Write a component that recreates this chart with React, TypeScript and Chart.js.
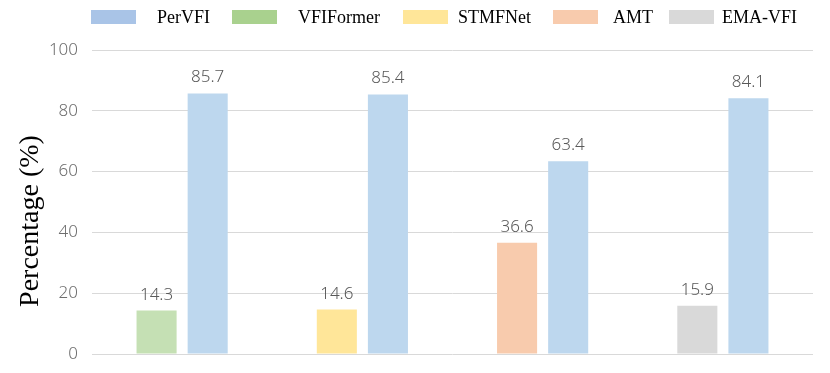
import React, { useEffect, useRef } from "react";
import { Chart, registerables } from "chart.js";

Chart.register(...registerables);

const categories = ["VFIFormer", "STMFNet", "AMT", "EMA-VFI"];
const competitorValues = [14.3, 14.6, 36.6, 15.9];
const perVFIValues = [85.7, 85.4, 63.4, 84.1];
const competitorColors = ["#c5e0b4", "#ffe699", "#f8cbad", "#d9d9d9"];
const perVFIColor = "#bdd7ee";

const legendLabels = ["PerVFI", "VFIFormer", "STMFNet", "AMT", "EMA-VFI"];
const legendColors = ["#a9c4e7", "#a9d18e", "#ffe699", "#f8cbad", "#d9d9d9"];
const yTicks = [0, 20, 40, 60, 80, 100];
const yTitle = "Percentage (%)";

// legend layout (decoration only)
const LEGEND_BOX_X = [91, 232, 403, 553, 669];
const LEGEND_TEXT_X = [157, 298, 458, 613, 722];

const valueLabelPlugin = {
  id: "valueLabels",
  afterDatasetsDraw(chart: any) {
    const ctx = chart.ctx;
    ctx.save();
    ctx.font = '300 17px "Noto Sans"';
    ctx.fillStyle = "#595959";
    ctx.textAlign = "center";
    ctx.textBaseline = "alphabetic";
    chart.data.datasets.forEach((ds: any, di: number) => {
      const meta = chart.getDatasetMeta(di);
      meta.data.forEach((bar: any, i: number) => {
        ctx.fillText(String(ds.data[i]), bar.x, bar.y - 11);
      });
    });
    ctx.restore();
  },
};

const legendPlugin = {
  id: "customLegend",
  afterDraw(chart: any) {
    const ctx = chart.ctx;
    ctx.save();
    ctx.font = '18px "Liberation Serif"';
    ctx.textBaseline = "middle";
    ctx.textAlign = "left";
    legendLabels.forEach((label, i) => {
      ctx.fillStyle = legendColors[i];
      ctx.fillRect(LEGEND_BOX_X[i], 10, 45, 14);
      ctx.fillStyle = "#000000";
      ctx.fillText(label, LEGEND_TEXT_X[i], 18);
    });
    ctx.restore();
  },
};

const yTitlePlugin = {
  id: "yTitle",
  afterDraw(chart: any) {
    const ctx = chart.ctx;
    ctx.save();
    ctx.translate(31, 221);
    ctx.rotate(-Math.PI / 2);
    ctx.font = '28px "Liberation Serif"';
    ctx.fillStyle = "#000000";
    ctx.textAlign = "center";
    ctx.textBaseline = "middle";
    ctx.fillText(yTitle, 0, 0);
    ctx.restore();
  },
};

export default function App() {
  const canvasRef = useRef<HTMLCanvasElement | null>(null);

  useEffect(() => {
    document.body.style.margin = "0";
    const canvas = canvasRef.current;
    if (!canvas) return;
    const chart = new Chart(canvas, {
      type: "bar",
      data: {
        labels: categories,
        datasets: [
          {
            label: "Competitor",
            data: competitorValues,
            backgroundColor: competitorColors,
            categoryPercentage: 0.567,
            barPercentage: 0.784,
          },
          {
            label: "PerVFI",
            data: perVFIValues,
            backgroundColor: perVFIColor,
            categoryPercentage: 0.567,
            barPercentage: 0.784,
          },
        ],
      },
      options: {
        responsive: false,
        animation: false,
        devicePixelRatio: 1,
        layout: { padding: { top: 50, bottom: 19, right: 17, left: 0 } },
        plugins: {
          legend: { display: false },
          tooltip: { enabled: false },
          title: { display: false },
        },
        scales: {
          x: { display: false },
          y: {
            min: 0,
            max: 100,
            afterFit(scale: any) {
              scale.width = 92;
              scale.paddingTop = 0;
              scale.paddingBottom = 0;
            },
            afterBuildTicks(scale: any) {
              scale.ticks = yTicks.map((v) => ({ value: v }));
            },
            grid: { color: "#d9d9d9", lineWidth: 1, drawTicks: false },
            border: { display: false },
            ticks: {
              padding: 14,
              color: "#6e6e6e",
              font: { family: "Noto Sans", size: 17, weight: "300" },
            },
          },
        },
      },
      plugins: [valueLabelPlugin, legendPlugin, yTitlePlugin],
    });
    return () => chart.destroy();
  }, []);

  return (
    <div style={{ width: 830, height: 373 }}>
      <canvas ref={canvasRef} width={830} height={373} style={{ display: "block" }} />
    </div>
  );
}
